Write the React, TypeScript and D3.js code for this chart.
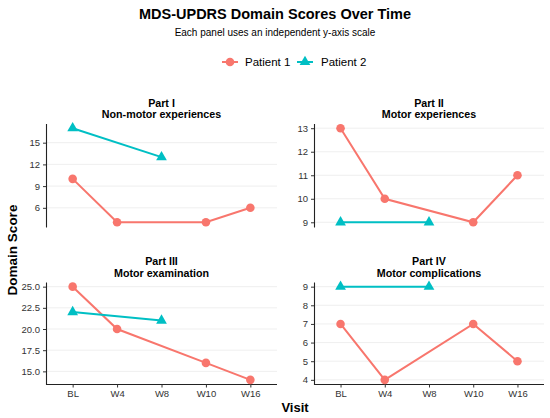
import React, { useEffect, useRef } from 'react';
import * as d3 from 'd3';

const visits = ['BL', 'W4', 'W8', 'W10', 'W16'];

const partTitles = ['Part I', 'Part II', 'Part III', 'Part IV'];
const partSubtitles = ['Non-motor experiences', 'Motor experiences', 'Motor examination', 'Motor complications'];

// Patient 1 was seen at BL, W4, W10, W16; Patient 2 at BL and W8
const patient1Visits = ['BL', 'W4', 'W10', 'W16'];
const patient1Scores = [
  [10, 4, 4, 6],
  [13, 10, 9, 11],
  [25, 20, 16, 14],
  [7, 4, 7, 5]
];
const patient2Visits = ['BL', 'W8'];
const patient2Scores = [
  [17, 13],
  [9, 9],
  [22, 21],
  [9, 9]
];

const yTicks = [
  [6, 9, 12, 15],
  [9, 10, 11, 12, 13],
  [15, 17.5, 20, 22.5, 25],
  [4, 5, 6, 7, 8, 9]
];
const yTickFormats = ['d', 'd', '.1f', 'd'];

const seriesNames = ['Patient 1', 'Patient 2'];
const seriesColors = ['#F8766D', '#00BFC4'];

const W = 550;
const H = 418;

const App: React.FC = () => {
  const svgRef = useRef<SVGSVGElement>(null);

  useEffect(() => {
    if (!svgRef.current) return;
    const svg = d3.select(svgRef.current);
    svg.selectAll('*').remove();

    const font = 'Liberation Sans, Arial, Helvetica, sans-serif';
    const cols = [[46, 277], [314, 544]];
    const rows = [[123.5, 227], [282, 384.5]];

    const triangle = d3.symbol().type(d3.symbolTriangle).size(50);

    // Title and subtitle
    svg.append('text')
      .attr('x', W / 2).attr('y', 19)
      .attr('text-anchor', 'middle')
      .style('font-family', font).style('font-size', '14.5px').style('font-weight', 'bold')
      .text('MDS-UPDRS Domain Scores Over Time');
    svg.append('text')
      .attr('x', W / 2).attr('y', 35.5)
      .attr('text-anchor', 'middle')
      .style('font-family', font).style('font-size', '10px')
      .text('Each panel uses an independent y-axis scale');

    // Legend
    const legend = svg.append('g');
    const legendItems = [{ x: 230, tx: 245 }, { x: 305, tx: 321 }];
    legendItems.forEach((it, i) => {
      legend.append('line')
        .attr('x1', it.x - 8).attr('x2', it.x + 8)
        .attr('y1', 62).attr('y2', 62)
        .attr('stroke', seriesColors[i]).attr('stroke-width', 2);
      if (i === 0) {
        legend.append('circle').attr('cx', it.x).attr('cy', 62).attr('r', 4.3).attr('fill', seriesColors[i]);
      } else {
        legend.append('path').attr('d', triangle).attr('transform', `translate(${it.x},62)`).attr('fill', seriesColors[i]);
      }
      legend.append('text')
        .attr('x', it.tx).attr('y', 66)
        .style('font-family', font).style('font-size', '11.5px')
        .text(seriesNames[i]);
    });

    partTitles.forEach((title, p) => {
      const [x0, x1] = cols[p % 2];
      const [y0, y1] = rows[Math.floor(p / 2)];
      const isBottom = p >= 2;

      const x = d3.scalePoint<string>().domain(visits).range([x0, x1]).padding(0.6);
      const allVals = [...patient1Scores[p], ...patient2Scores[p]];
      const [lo, hi] = d3.extent(allVals) as [number, number];
      const pad = (hi - lo) * 0.05;
      const y = d3.scaleLinear().domain([lo - pad, hi + pad]).range([y1, y0]);

      const g = svg.append('g');

      // Gridlines
      g.selectAll('.grid')
        .data(yTicks[p])
        .enter()
        .append('line')
        .attr('x1', x0).attr('x2', x1)
        .attr('y1', d => y(d)).attr('y2', d => y(d))
        .attr('stroke', '#ebebeb').attr('stroke-width', 0.8);

      // Strip titles
      g.append('text')
        .attr('x', (x0 + x1) / 2).attr('y', y0 - 17)
        .attr('text-anchor', 'middle')
        .style('font-family', font).style('font-size', '10.7px').style('font-weight', 'bold')
        .text(title);
      g.append('text')
        .attr('x', (x0 + x1) / 2).attr('y', y0 - 5.5)
        .attr('text-anchor', 'middle')
        .style('font-family', font).style('font-size', '10.7px').style('font-weight', 'bold')
        .text(partSubtitles[p]);

      // Y axis
      const yAxis = g.append('g')
        .attr('transform', `translate(${x0},0)`)
        .call(d3.axisLeft(y).tickValues(yTicks[p]).tickFormat(d3.format(yTickFormats[p])).tickSize(3).tickSizeOuter(0));
      yAxis.select('.domain').attr('stroke', '#222').attr('stroke-width', 1.1);
      yAxis.selectAll('.tick line').attr('stroke', '#333');
      yAxis.selectAll('.tick text')
        .attr('fill', '#333')
        .style('font-family', font).style('font-size', '9.5px');

      // X axis on bottom row only
      if (isBottom) {
        const xAxis = g.append('g')
          .attr('transform', `translate(0,${y1})`)
          .call(d3.axisBottom(x).tickSize(3).tickSizeOuter(0));
        xAxis.select('.domain').attr('stroke', '#222').attr('stroke-width', 1.1).attr('d', `M${x0},0H${x1}`);
        xAxis.selectAll('.tick line').attr('stroke', '#333');
        xAxis.selectAll('.tick text')
          .attr('fill', '#333')
          .style('font-family', font).style('font-size', '9.5px');
      }

      const line = d3.line<[string, number]>()
        .x(d => x(d[0]) as number)
        .y(d => y(d[1]));

      const s1: [string, number][] = patient1Visits.map((v, i) => [v, patient1Scores[p][i]]);
      const s2: [string, number][] = patient2Visits.map((v, i) => [v, patient2Scores[p][i]]);

      g.append('path').datum(s1).attr('d', line)
        .attr('fill', 'none').attr('stroke', seriesColors[0]).attr('stroke-width', 2);
      g.selectAll('.p1')
        .data(s1)
        .enter()
        .append('circle')
        .attr('cx', d => x(d[0]) as number).attr('cy', d => y(d[1]))
        .attr('r', 4.3).attr('fill', seriesColors[0]);

      g.append('path').datum(s2).attr('d', line)
        .attr('fill', 'none').attr('stroke', seriesColors[1]).attr('stroke-width', 2);
      g.selectAll('.p2')
        .data(s2)
        .enter()
        .append('path')
        .attr('d', triangle)
        .attr('transform', d => `translate(${x(d[0])},${y(d[1])})`)
        .attr('fill', seriesColors[1]);
    });

    // Axis titles
    svg.append('text')
      .attr('transform', 'translate(16.5,250) rotate(-90)')
      .attr('text-anchor', 'middle')
      .style('font-family', font).style('font-size', '13.5px').style('font-weight', 'bold')
      .text('Domain Score');
    svg.append('text')
      .attr('x', 295).attr('y', 412)
      .attr('text-anchor', 'middle')
      .style('font-family', font).style('font-size', '13px').style('font-weight', 'bold')
      .text('Visit');
  }, []);

  return (
    <div style={{ position: 'absolute', left: 0, top: 0 }}>
      <svg ref={svgRef} width={W} height={H} style={{ display: 'block', background: '#fff' }} />
    </div>
  );
};

export default App;
